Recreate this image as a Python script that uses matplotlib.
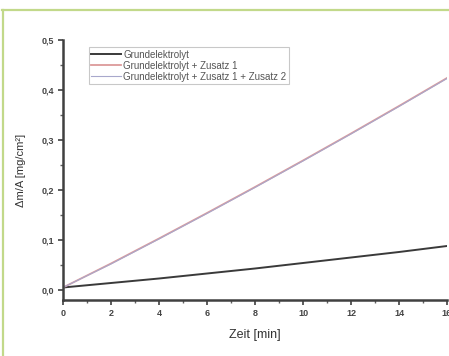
import matplotlib
matplotlib.use("Agg")
import matplotlib.pyplot as plt
from matplotlib.lines import Line2D
from matplotlib.ticker import MultipleLocator

plt.rcParams['font.family'] = ['Liberation Sans', 'DejaVu Sans']

# data
zeit = [0, 2, 4, 6, 8, 10, 12, 14, 16]
grund = [0.005, 0.014, 0.023, 0.033, 0.043, 0.054, 0.065, 0.076, 0.088]
zusatz1 = [0.005, 0.053, 0.103, 0.154, 0.206, 0.259, 0.313, 0.368, 0.424]
zusatz12 = [0.005, 0.052, 0.102, 0.153, 0.205, 0.258, 0.312, 0.367, 0.423]
labels = ["Grundelektrolyt",
          "Grundelektrolyt + Zusatz 1",
          "Grundelektrolyt + Zusatz 1 + Zusatz 2"]

fig = plt.figure(figsize=(4.49, 3.56), dpi=100)
ax = fig.add_axes([63 / 449, 56 / 356, 384 / 449, 260 / 356])

ax.plot(zeit, grund, color='#3a3a3a', lw=1.4, label=labels[0])
ax.plot(zeit, zusatz1, color='#dc9a9a', lw=1.3, label=labels[1])
ax.plot(zeit, zusatz12, color='#a8a8cc', lw=0.8, label=labels[2])

ax.set_xlim(0, 16)
ax.set_ylim(-0.02, 0.5)
ax.xaxis.set_major_locator(MultipleLocator(2))
ax.xaxis.set_minor_locator(MultipleLocator(1))
ax.yaxis.set_major_locator(MultipleLocator(0.1))
ax.yaxis.set_minor_locator(MultipleLocator(0.05))
ax.yaxis.set_major_formatter(plt.FuncFormatter(lambda v, p: f"{v:.1f}".replace('.', ',')))

for side in ['top', 'right']:
    ax.spines[side].set_visible(False)
for side in ['left', 'bottom']:
    ax.spines[side].set_linewidth(1.8)
    ax.spines[side].set_color('#404040')

ax.tick_params(which='major', direction='out', length=3.5, width=1.2,
               colors='#404040', labelsize=6.5, labelcolor='#444444', pad=3)
ax.tick_params(which='minor', direction='out', length=2, width=1,
               colors='#606060')
for t in ax.get_xticklabels() + ax.get_yticklabels():
    t.set_fontweight('bold')

ax.set_xlabel("Zeit [min]", fontsize=9, color='#333333', labelpad=8)
ax.set_ylabel("\u0394m/A [mg/cm\u00b2]", fontsize=8, color='#333333', labelpad=11)

leg = ax.legend(loc='upper left', bbox_to_anchor=(0.055, 0.99), fontsize=7,
                frameon=True, fancybox=False, handlelength=3,
                borderpad=0.25, labelspacing=0.1, handletextpad=0.3)
leg.get_frame().set_edgecolor('#bbbbbb')
leg.get_frame().set_linewidth(0.8)
for t in leg.get_texts():
    t.set_color('#555555')

# light green frame at top and left
fig.add_artist(Line2D([2 / 449, 1], [1 - 9.5 / 356] * 2, color='#c2d98a', lw=1.6,
                      transform=fig.transFigure))
fig.add_artist(Line2D([2.5 / 449] * 2, [0, 1 - 9.5 / 356], color='#c2d98a', lw=1.6,
                      transform=fig.transFigure))

fig.savefig("out.png", dpi=100)
